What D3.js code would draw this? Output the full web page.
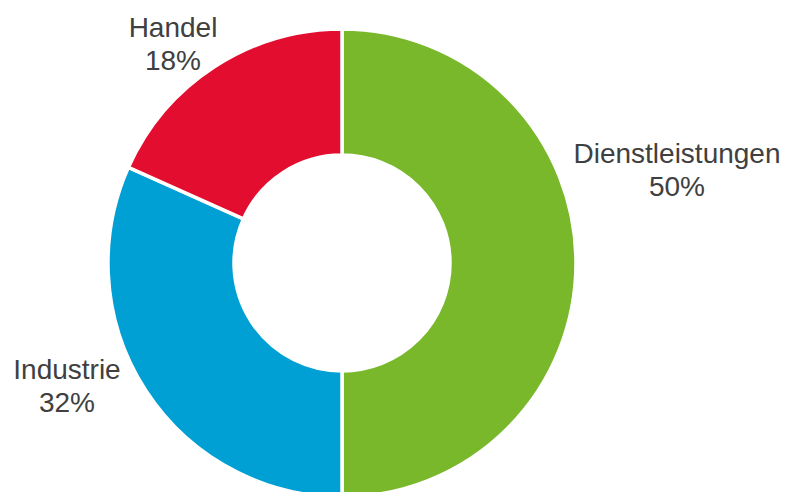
<!DOCTYPE html>
<html><head><meta charset="utf-8">
<script src="https://cdn.jsdelivr.net/npm/d3@7"></script>
<style>html,body{margin:0;padding:0;background:#fff;}svg{display:block;}</style>
</head><body>
<script>
const categories = ["Dienstleistungen", "Industrie", "Handel"];
const values = [50, 31.7, 18.3];
const percentLabels = ["50%", "32%", "18%"];
const colors = ["#78b82a", "#009fd4", "#e30d2f"];

const W = 787, H = 492;
const cx = 342, cy = 263, R = 234, r = 108;
const svg = d3.select("body").append("svg").attr("width", W).attr("height", H);
const g = svg.append("g").attr("transform", `translate(${cx},${cy})`);
const pie = d3.pie().sort(null).value(d => d)(values);
const arc = d3.arc().innerRadius(r).outerRadius(R);
g.selectAll("path").data(pie).join("path")
  .attr("d", arc).attr("fill", (d, i) => colors[i])
  .attr("stroke", "#fff").attr("stroke-width", 3.5).attr("stroke-linejoin", "miter");

const labelPos = [[677, 163], [67, 379], [173, 37]];
const lab = svg.append("g").attr("font-family", "'Liberation Sans', Arial, sans-serif")
  .attr("font-size", 28).attr("fill", "#404040").attr("text-anchor", "middle");
categories.forEach((c, i) => {
  const t = lab.append("text").attr("x", labelPos[i][0]).attr("y", labelPos[i][1]);
  [c, percentLabels[i]].forEach((s, j) => t.append("tspan").attr("x", labelPos[i][0]).attr("dy", j ? 33 : 0).text(s));
});
</script>
</body></html>
